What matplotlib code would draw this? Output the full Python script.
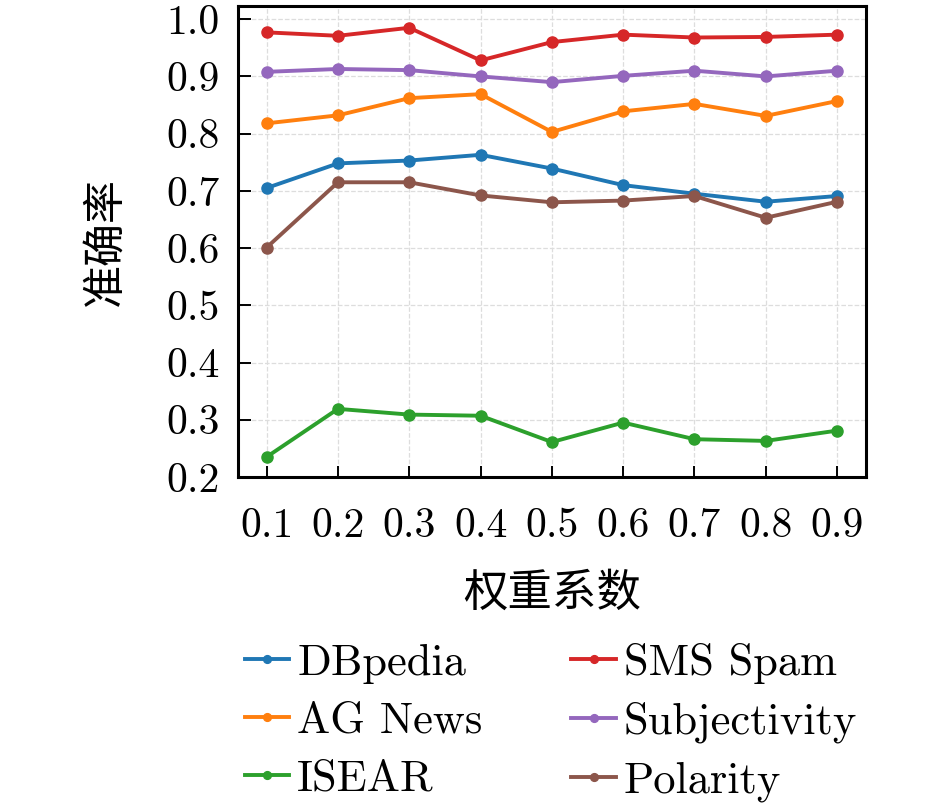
import numpy as np
import matplotlib
matplotlib.use("Agg")
import matplotlib.pyplot as plt
from matplotlib.ticker import FuncFormatter

# -----------------------------------------------------------------------------
# Datos
# -----------------------------------------------------------------------------
pesos = [0.1, 0.2, 0.3, 0.4, 0.5, 0.6, 0.7, 0.8, 0.9]

dbpedia = [0.705, 0.748, 0.753, 0.763, 0.739, 0.710, 0.695, 0.681, 0.691]
ag_news = [0.818, 0.832, 0.862, 0.869, 0.803, 0.839, 0.852, 0.831, 0.857]
isear = [0.235, 0.319, 0.309, 0.307, 0.261, 0.295, 0.266, 0.263, 0.281]
sms_spam = [0.977, 0.971, 0.985, 0.928, 0.960, 0.973, 0.968, 0.969, 0.973]
subjectivity = [0.908, 0.913, 0.911, 0.900, 0.890, 0.901, 0.910, 0.900, 0.910]
polarity = [0.601, 0.715, 0.715, 0.692, 0.680, 0.683, 0.691, 0.653, 0.681]

series = [
    ("DBpedia", dbpedia, "tab:blue"),
    ("AG News", ag_news, "tab:orange"),
    ("ISEAR", isear, "tab:green"),
    ("SMS Spam", sms_spam, "tab:red"),
    ("Subjectivity", subjectivity, "tab:purple"),
    ("Polarity", polarity, "tab:brown"),
]

yticks = [0.2, 0.3, 0.4, 0.5, 0.6, 0.7, 0.8, 0.9, 1.0]

# -----------------------------------------------------------------------------
# Figura
# -----------------------------------------------------------------------------
plt.rcParams["font.family"] = ["cmr10", "Noto Sans CJK SC"]
plt.rcParams["axes.formatter.use_mathtext"] = True

fig = plt.figure(figsize=(9.45, 8.05), dpi=100)
ax = fig.add_axes([0.252, 0.4075, 0.664, 0.585])

for nombre, valores, color in series:
    ax.plot(pesos, valores, color=color, lw=2.8, marker="o", ms=8, label=nombre)

ax.set_xlim(0.06, 0.94)
ax.set_ylim(0.2, 1.023)
ax.set_xticks(pesos)
ax.set_yticks(yticks)
ax.xaxis.set_major_formatter(FuncFormatter(lambda v, p: f"{v:.1f}"))
ax.yaxis.set_major_formatter(FuncFormatter(lambda v, p: f"{v:.1f}"))

ax.grid(True, ls="--", color="#dddddd", lw=0.9)
ax.set_axisbelow(True)
for s in ax.spines.values():
    s.set_linewidth(2.2)
    s.set_color("black")

ax.tick_params(axis="both", direction="in", labelsize=30, width=1.4)
ax.tick_params(axis="x", length=8, pad=22)
ax.tick_params(axis="y", length=9, pad=13)

ax.set_xlabel("权重系数", fontsize=32, family="Noto Sans CJK SC", labelpad=18)
ax.set_ylabel("准确率", fontsize=31, family="Noto Sans CJK SC", labelpad=28)

fig.legend(loc="upper center", bbox_to_anchor=(0.583, 0.251), ncol=2,
           frameon=False, fontsize=32, handlelength=1.0, handletextpad=0.18,
           columnspacing=2.0, labelspacing=0.4, markerscale=0.7)

fig.savefig("out.png", dpi=100)
